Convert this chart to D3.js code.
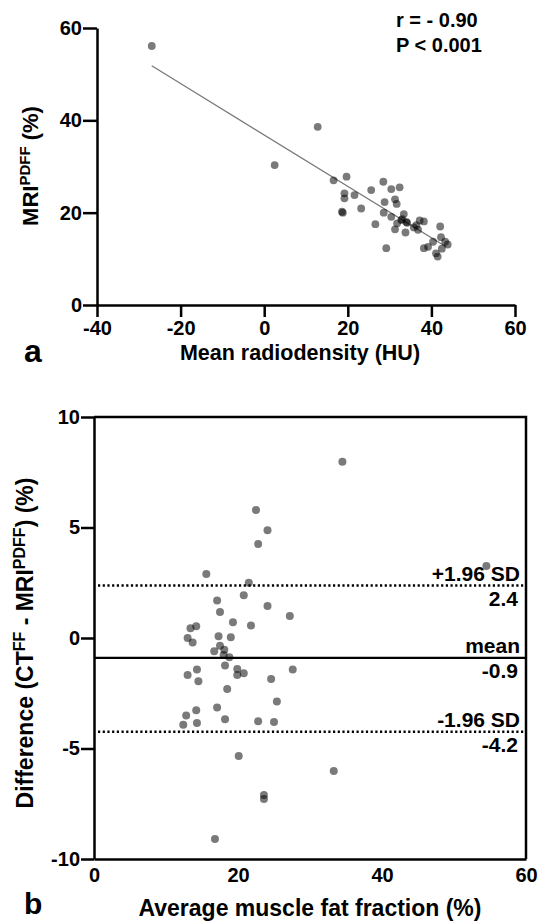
<!DOCTYPE html>
<html>
<head>
<meta charset="utf-8">
<script src="https://cdn.jsdelivr.net/npm/d3@7"></script>
<style>
  html, body { margin: 0; padding: 0; background: #fff; }
  svg { display: block; font-family: "Liberation Sans", Arial, Helvetica, sans-serif; font-weight: bold; }
</style>
</head>
<body>
<svg id="chart" width="539" height="923"></svg>
<script>
// panel a: mean radiodensity (HU) vs MRI PDFF (%)
var radiodensity = [-26.9, 2.5, 12.8, 16.6, 19.7, 19.2, 19.2, 21.6, 18.6, 18.8, 23.2, 25.6, 28.5, 30.4, 32.4,
  28.8, 31.3, 31.7, 28.6, 30.4, 33.4, 26.6, 32.8, 34.2, 34.0, 31.3, 33.8, 36.4, 36.8, 38.2, 37.2, 42.1,
  42.3, 43.3, 43.9, 42.5, 40.4, 39.2, 38.2, 41.1, 41.5, 29.2, 35.8, 31.8, 33.0];
var mriPdff = [56.1, 30.3, 38.6, 27.0, 27.8, 24.2, 23.1, 23.8, 20.2, 20.0, 20.9, 24.9, 26.7, 25.1, 25.5,
  22.3, 22.9, 21.9, 20.0, 19.1, 19.7, 17.5, 18.4, 17.8, 18.0, 16.4, 15.7, 17.3, 16.3, 18.1, 18.3, 17.0,
  14.7, 13.7, 13.1, 12.2, 13.7, 12.6, 12.3, 11.2, 10.5, 12.3, 16.8, 17.7, 18.6];
var fitX = [-26.9, 43.5];
var fitY = [51.8, 12.6];
var statsText = ["r = - 0.90", "P < 0.001"];
var ticksA_x = [-40, -20, 0, 20, 40, 60];
var ticksA_y = [0, 20, 40, 60];

// panel b: Bland-Altman
var avgFat = [22.5, 24.1, 22.8, 15.6, 21.5, 20.8, 17.1, 17.5, 24.1, 27.2, 19.3, 21.8, 13.4, 14.2, 13.0,
  13.7, 17.3, 19.0, 17.5, 16.7, 18.1, 18.0, 18.8, 18.2, 19.9, 19.9, 20.8, 14.3, 13.0, 14.5, 18.5, 24.6,
  27.6, 25.4, 17.1, 14.2, 12.8, 12.4, 14.3, 18.2, 22.8, 25.0, 20.1, 23.6, 23.6, 16.8, 34.5, 54.5, 33.3];
var diffFat = [5.79, 4.87, 4.25, 2.90, 2.50, 1.93, 1.70, 1.18, 1.45, 1.0, 0.71, 0.57, 0.44, 0.53, 0.0,
  -0.2, 0.08, 0.03, -0.35, -0.6, -0.53, -0.77, -0.87, -1.24, -1.40, -1.67, -1.60, -1.42, -1.67, -1.96, -2.31, -1.86,
  -1.42, -2.87, -3.15, -3.27, -3.51, -3.92, -3.85, -3.68, -3.77, -3.80, -5.34, -7.10, -7.28, -9.10, 7.97, 3.26, -6.02];
var loaValues = [2.37, -0.9, -4.24];
var loaNames = ["+1.96 SD", "mean", "-1.96 SD"];
var loaLabels = ["2.4", "-0.9", "-4.2"];
var loaDotted = [true, false, true];
var ticksB_x = [0, 20, 40, 60];
var ticksB_y = [-10, -5, 0, 5, 10];

var svg = d3.select('#chart');

var styleAxis = function(g, fs) {
    g.selectAll('path.domain').attr('stroke', '#000').attr('stroke-width', 2.5);
    g.selectAll('.tick line').attr('stroke', '#000').attr('stroke-width', 2.5);
    g.selectAll('.tick text').attr('fill', '#000')
        .style('font-size', fs + 'px').style('font-weight', 'bold')
        .style('font-family', '"Liberation Sans", Arial, sans-serif');
};

// ---------- panel a ----------
var xA = d3.scaleLinear().domain([-40, 60]).range([97, 515]);
var yA = d3.scaleLinear().domain([0, 60]).range([305, 28]);

svg.append('g')
    .attr('transform', 'translate(0,' + yA(0) + ')')
    .call(d3.axisBottom(xA).tickValues(ticksA_x).tickSize(12).tickSizeOuter(0).tickPadding(4)
        .tickFormat(function(d) { return String(d); }))
    .call(styleAxis, 20);

svg.append('g')
    .attr('transform', 'translate(' + xA(-40) + ',0)')
    .call(d3.axisLeft(yA).tickValues(ticksA_y).tickSize(14).tickSizeOuter(0).tickPadding(1)
        .tickFormat(function(d) { return String(d); }))
    .call(styleAxis, 20);

svg.append('line')
    .attr('x1', xA(fitX[0])).attr('y1', yA(fitY[0]))
    .attr('x2', xA(fitX[1])).attr('y2', yA(fitY[1]))
    .attr('stroke', '#777').attr('stroke-width', 1.2);

svg.append('g').selectAll('circle')
    .data(d3.range(radiodensity.length))
    .enter().append('circle')
    .attr('cx', function(i) { return xA(radiodensity[i]); })
    .attr('cy', function(i) { return yA(mriPdff[i]); })
    .attr('r', 3.9)
    .attr('fill', '#000')
    .attr('fill-opacity', 0.52);

svg.selectAll('.stat')
    .data(statsText)
    .enter().append('text')
    .attr('class', 'stat')
    .attr('x', 396)
    .attr('y', function(d, i) { return 27 + i * 25; })
    .style('font-size', '20px')
    .text(function(d) { return d; });

var labA = svg.append('text')
    .attr('transform', 'translate(38,166) rotate(-90)')
    .attr('text-anchor', 'middle')
    .style('font-size', '22px');
labA.append('tspan').text('MRI');
labA.append('tspan').attr('dy', -8).style('font-size', '15px').text('PDFF');
labA.append('tspan').attr('dy', 8).text(' (%)');

svg.append('text')
    .attr('x', 300).attr('y', 360)
    .attr('text-anchor', 'middle')
    .style('font-size', '21.5px')
    .text('Mean radiodensity (HU)');

svg.append('text')
    .attr('x', 24).attr('y', 362)
    .style('font-size', '32px')
    .text('a');

// ---------- panel b ----------
var xB = d3.scaleLinear().domain([0, 60]).range([94, 526]);
var yB = d3.scaleLinear().domain([-10, 10]).range([859, 417]);

// frame top / right
svg.append('path')
    .attr('d', 'M' + xB(0) + ',' + yB(10) + 'H' + xB(60) + 'V' + yB(-10))
    .attr('fill', 'none').attr('stroke', '#000').attr('stroke-width', 2.5);

svg.append('g')
    .attr('transform', 'translate(0,' + yB(-10) + ')')
    .call(d3.axisBottom(xB).tickValues(ticksB_x).tickSize(0).tickSizeOuter(0).tickPadding(9)
        .tickFormat(function(d) { return String(d); }))
    .call(styleAxis, 20);

svg.append('g')
    .attr('transform', 'translate(' + xB(0) + ',0)')
    .call(d3.axisLeft(yB).tickValues(ticksB_y).tickSize(13).tickSizeOuter(0).tickPadding(1)
        .tickFormat(function(d) { return String(d); }))
    .call(styleAxis, 20);

var loa = svg.append('g').selectAll('g')
    .data(d3.range(loaValues.length))
    .enter().append('g');

loa.append('line')
    .attr('x1', function(i) { return loaDotted[i] ? xB(0) + 4 : xB(0); })
    .attr('x2', xB(60))
    .attr('y1', function(i) { return yB(loaValues[i]); })
    .attr('y2', function(i) { return yB(loaValues[i]); })
    .attr('stroke', '#000')
    .attr('stroke-width', function(i) { return loaDotted[i] ? 2.5 : 2.2; })
    .attr('stroke-dasharray', function(i) { return loaDotted[i] ? '2.2,2.5' : null; });

svg.append('g').selectAll('circle')
    .data(d3.range(avgFat.length))
    .enter().append('circle')
    .attr('cx', function(i) { return xB(avgFat[i]); })
    .attr('cy', function(i) { return yB(diffFat[i]); })
    .attr('r', 4)
    .attr('fill', '#000')
    .attr('fill-opacity', 0.52);

loa.append('text')
    .attr('x', 520)
    .attr('y', function(i) { return yB(loaValues[i]) - 4.5; })
    .attr('text-anchor', 'end')
    .style('font-size', '21px')
    .text(function(i) { return loaNames[i]; });

loa.append('text')
    .attr('x', 518)
    .attr('y', function(i) { return yB(loaValues[i]) + 20; })
    .attr('text-anchor', 'end')
    .style('font-size', '21px')
    .text(function(i) { return loaLabels[i]; });

var labB = svg.append('text')
    .attr('transform', 'translate(33,643) rotate(-90)')
    .attr('text-anchor', 'middle')
    .style('font-size', '23px');
labB.append('tspan').text('Difference (CT');
labB.append('tspan').attr('dy', -8).style('font-size', '16px').text('FF');
labB.append('tspan').attr('dy', 8).text(' - MRI');
labB.append('tspan').attr('dy', -8).style('font-size', '16px').text('PDFF');
labB.append('tspan').attr('dy', 8).text(') (%)');

svg.append('text')
    .attr('x', 310).attr('y', 916)
    .attr('text-anchor', 'middle')
    .style('font-size', '23px')
    .text('Average muscle fat fraction (%)');

svg.append('text')
    .attr('x', 24).attr('y', 914)
    .style('font-size', '30px')
    .text('b');
</script>
</body>
</html>
